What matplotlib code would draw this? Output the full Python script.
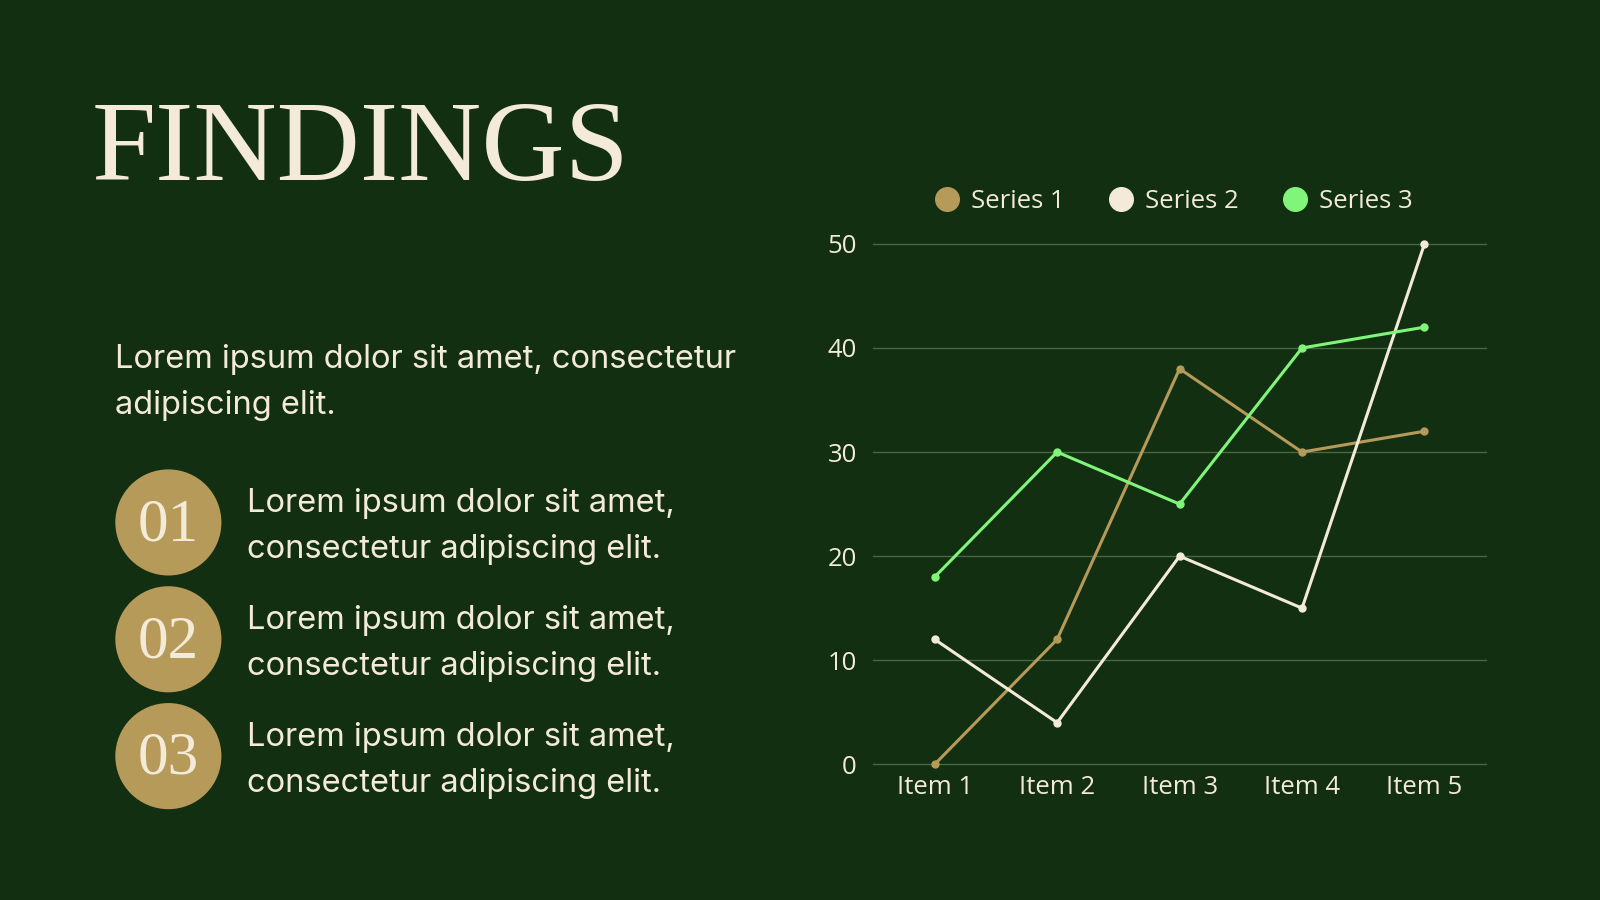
import matplotlib
matplotlib.use("Agg")
import matplotlib.pyplot as plt
from matplotlib.patches import Circle

# chart data
items = ["Item 1", "Item 2", "Item 3", "Item 4", "Item 5"]
series_names = ["Series 1", "Series 2", "Series 3"]
series_1 = [0, 12, 38, 30, 32]
series_2 = [12, 4, 20, 15, 50]
series_3 = [18, 30, 25, 40, 42]
y_ticks = [0, 10, 20, 30, 40, 50]

# slide text
title = "FINDINGS"
intro = "Lorem ipsum dolor sit amet, consectetur\nadipiscing elit."
numbers = ["01", "02", "03"]
points = ["Lorem ipsum dolor sit amet,\nconsectetur adipiscing elit."] * 3

BG = "#122f11"
GOLD = "#b59a5a"
CREAM = "#f3ead8"
GREEN = "#80f57a"
GRID = "#4a6744"

W, H = 1568, 882  # layout reference units

fig = plt.figure(figsize=(16, 9), dpi=100, facecolor=BG)

# overlay for slide text & circles, in reference pixel units
bg = fig.add_axes([0, 0, 1, 1])
bg.set_xlim(0, W)
bg.set_ylim(H, 0)
bg.axis("off")
bg.set_facecolor(BG)

bg.text(90, 176, title, fontsize=83, family="Liberation Serif", color=CREAM,
        va="baseline", ha="left")
bg.text(113, 375, intro, fontsize=23.5, family="Inter", color=CREAM,
        va="center", ha="left", linespacing=1.64)

for i, (num, txt) in enumerate(zip(numbers, points)):
    cy = 512 + i * 114.5
    bg.add_patch(Circle((165, cy), 52, color=GOLD, lw=0))
    bg.text(165, cy + 3, num, fontsize=44, family="Liberation Serif", color=CREAM,
            ha="center", va="center")
    bg.text(242, cy + 4, txt, fontsize=23.5, family="Inter", color=CREAM,
            ha="left", va="center", linespacing=1.62)

# line chart
ax = fig.add_axes([856 / W, 1 - 749 / H, 600 / W, 510 / H])
ax.set_facecolor("none")
x = range(len(items))
colors = [GOLD, CREAM, GREEN]
for name, vals, c in zip(series_names, [series_1, series_2, series_3], colors):
    ax.plot(x, vals, color=c, lw=2.2, marker="o", markersize=5, label=name,
            clip_on=False, zorder=3)

ax.set_xlim(-0.5, len(items) - 0.5)
ax.set_ylim(0, 50)
ax.set_xticks(list(x))
ax.set_xticklabels(items)
ax.set_yticks(y_ticks)
ax.grid(axis="y", color=GRID, lw=1)
for gl in ax.get_ygridlines():
    gl.set_clip_on(False)
ax.set_axisbelow(True)
for s in ax.spines.values():
    s.set_visible(False)
ax.tick_params(length=0, colors=CREAM, labelsize=18.5)
for lab in ax.get_xticklabels() + ax.get_yticklabels():
    lab.set_family("Open Sans")
ax.tick_params(axis="y", pad=12)
ax.tick_params(axis="x", pad=8)

handles = [plt.Line2D([], [], ls="none", marker="o", markersize=17, color=c) for c in colors]
leg = ax.legend(handles, series_names, loc="center", bbox_to_anchor=(0.49, 1.082),
                ncol=3, frameon=False, handlelength=1.0, handletextpad=0.44,
                columnspacing=1.7, prop={"family": "Open Sans", "size": 18.5})
for t in leg.get_texts():
    t.set_color(CREAM)

fig.savefig("out.png", dpi=100, facecolor=BG)
